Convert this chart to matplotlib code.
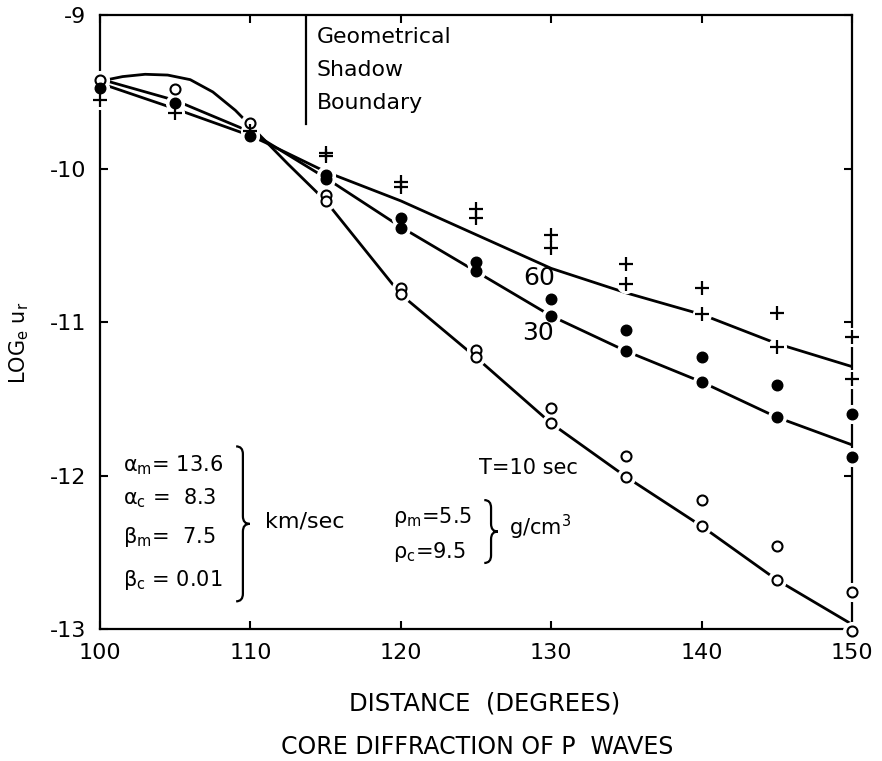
import matplotlib
matplotlib.use("Agg")
import matplotlib.pyplot as plt  # noqa: E402
from matplotlib.path import Path  # noqa: E402
from matplotlib.patches import PathPatch  # noqa: E402

plt.rcParams["font.family"] = "DejaVu Sans"
plt.rcParams["axes.unicode_minus"] = False
plt.rcParams["mathtext.fontset"] = "dejavusans"

# distances (degrees)
dist = [100, 105, 110, 115, 120, 125, 130, 135, 140, 145, 150]
dist_pair = [115, 120, 125, 130, 135, 140, 145, 150]

# T = 10 sec (open circles): two computations per distance
open_a = [-9.42, -9.48, -9.70, -10.17, -10.78, -11.18, -11.56, -11.87, -12.16, -12.46, -12.76]
open_b = [-10.21, -10.82, -11.23, -11.66, -12.01, -12.33, -12.68, -13.01]
# T = 30 sec (filled circles)
fill_a = [-9.475, -9.57, -9.79, -10.04, -10.32, -10.61, -10.85, -11.05, -11.23, -11.41, -11.60]
fill_b = [-10.07, -10.39, -10.67, -10.96, -11.19, -11.39, -11.62, -11.88]
# T = 60 sec (plus signs)
plus_a = [-9.555, -9.64, -9.755, -9.90, -10.09, -10.26, -10.43, -10.62, -10.78, -10.94, -11.10]
plus_b = [-9.92, -10.12, -10.32, -10.52, -10.75, -10.95, -11.16, -11.37]

# hand-drawn curves through the points
curve10_x = [100.5, 101.5, 103.0, 104.5, 106.0, 107.5, 109.0, 110.0, 111.0, 112.5,
             115, 120, 125, 130, 135, 140, 145, 150]
curve10_y = [-9.42, -9.40, -9.385, -9.39, -9.42, -9.50, -9.62, -9.72, -9.82, -9.97,
             -10.21, -10.82, -11.23, -11.66, -12.01, -12.33, -12.68, -12.97]
curve30_x = [100.5, 105, 110, 111, 115, 120, 125, 130, 135, 140, 145, 150]
curve30_y = [-9.43, -9.555, -9.76, -9.82, -10.06, -10.38, -10.67, -10.96, -11.19, -11.39, -11.62, -11.80]
curve60_x = [100.5, 105, 110, 111, 115, 120, 125, 130, 135, 140, 145, 150]
curve60_y = [-9.46, -9.61, -9.785, -9.83, -10.02, -10.21, -10.43, -10.65, -10.81, -10.95, -11.14, -11.29]

xticks = [100, 110, 120, 130, 140, 150]
yticks = [-13, -12, -11, -10, -9]

fig = plt.figure(figsize=(8.82, 7.61), dpi=100)
ax = fig.add_axes([0.1134, 0.1735, 0.8526, 0.8065])
ax.set_xlim(100, 150)
ax.set_ylim(-13, -9)

lw = 2.0
for cx, cy in [(curve10_x, curve10_y), (curve30_x, curve30_y), (curve60_x, curve60_y)]:
    ax.plot(cx, cy, color="black", lw=lw, zorder=2, solid_capstyle="butt")

# white halos break the curves around each point
all_x = dist * 3 + dist_pair * 3
all_y = open_a + fill_a + plus_a + open_b + fill_b + plus_b
ax.scatter(all_x, all_y, s=190, color="white", zorder=3, clip_on=False, linewidths=0)

mk = dict(clip_on=False, zorder=4, linestyle="none")
for xs, ys in [(dist, open_a), (dist_pair, open_b)]:
    ax.plot(xs, ys, marker="o", ms=7.2, mfc="white", mec="black", mew=1.5, **mk)
for xs, ys in [(dist, fill_a), (dist_pair, fill_b)]:
    ax.plot(xs, ys, marker="o", ms=7.6, mfc="black", mec="black", mew=1.0, **mk)
for xs, ys in [(dist, plus_a), (dist_pair, plus_b)]:
    ax.plot(xs, ys, marker="+", ms=9.5, mec="black", mew=1.6, **mk)

ax.set_xticks(xticks)
ax.set_xticklabels([str(v) for v in xticks])
ax.set_yticks(yticks)
ax.set_yticklabels([str(v) for v in yticks])
ax.tick_params(direction="in", length=6, width=1.5, top=True, right=True,
               labelsize=16, pad=10)
for sp in ax.spines.values():
    sp.set_linewidth(1.6)

# geometrical shadow boundary
ax.plot([113.7, 113.7], [-9, -9.71], color="black", lw=1.6, zorder=2)
for txt, yy in [("Geometrical", -9.14), ("Shadow", -9.36), ("Boundary", -9.57)]:
    ax.text(114.4, yy, txt, fontsize=15.8, ha="left", va="center")

ax.text(129.2, -10.71, "60", fontsize=18, ha="center", va="center")
ax.text(129.1, -11.07, "30", fontsize=18, ha="center", va="center")
ax.text(125.2, -11.95, "T=10 sec", fontsize=15, ha="left", va="center")

# model parameters
params = [("α$_\\mathrm{m}$= 13.6", -11.93), ("α$_\\mathrm{c}$ =  8.3", -12.15),
          ("β$_\\mathrm{m}$=  7.5", -12.40), ("β$_\\mathrm{c}$ = 0.01", -12.68)]
for txt, yy in params:
    ax.text(101.5, yy, txt, fontsize=15, ha="left", va="center")
ax.text(111.0, -12.30, "km/sec", fontsize=16, ha="left", va="center")
ax.text(119.5, -12.27, "ρ$_\\mathrm{m}$=5.5", fontsize=15, ha="left", va="center")
ax.text(119.5, -12.50, "ρ$_\\mathrm{c}$=9.5", fontsize=15, ha="left", va="center")
ax.text(127.2, -12.34, "g/cm$^3$", fontsize=15, ha="left", va="center")


def brace(ax, x, y_top, y_bot, w=0.45, h=0.05):
    ym = (y_top + y_bot) / 2
    verts = [(x - w, y_top), (x, y_top), (x, y_top - h),
             (x, ym + h), (x, ym), (x + w, ym),
             (x, ym), (x, ym - h),
             (x, y_bot + h), (x, y_bot), (x - w, y_bot)]
    codes = [Path.MOVETO, Path.CURVE3, Path.CURVE3,
             Path.LINETO, Path.CURVE3, Path.CURVE3,
             Path.CURVE3, Path.CURVE3,
             Path.LINETO, Path.CURVE3, Path.CURVE3]
    ax.add_patch(PathPatch(Path(verts, codes), fc="none", ec="black", lw=1.6))


brace(ax, 109.5, -11.81, -12.82)
brace(ax, 126.0, -12.16, -12.57)

fig.text(0.0215, 0.549, "LOG$_\\mathrm{e}$ u$_\\mathrm{r}$", rotation=90,
         fontsize=15, ha="center", va="center")
fig.text(0.549, 1 - 703 / 761, "DISTANCE  (DEGREES)", fontsize=17.5, ha="center", va="center")
fig.text(0.541, 1 - 747 / 761, "CORE DIFFRACTION OF P  WAVES", fontsize=17,
         ha="center", va="center")

fig.savefig("out.png", dpi=100)
